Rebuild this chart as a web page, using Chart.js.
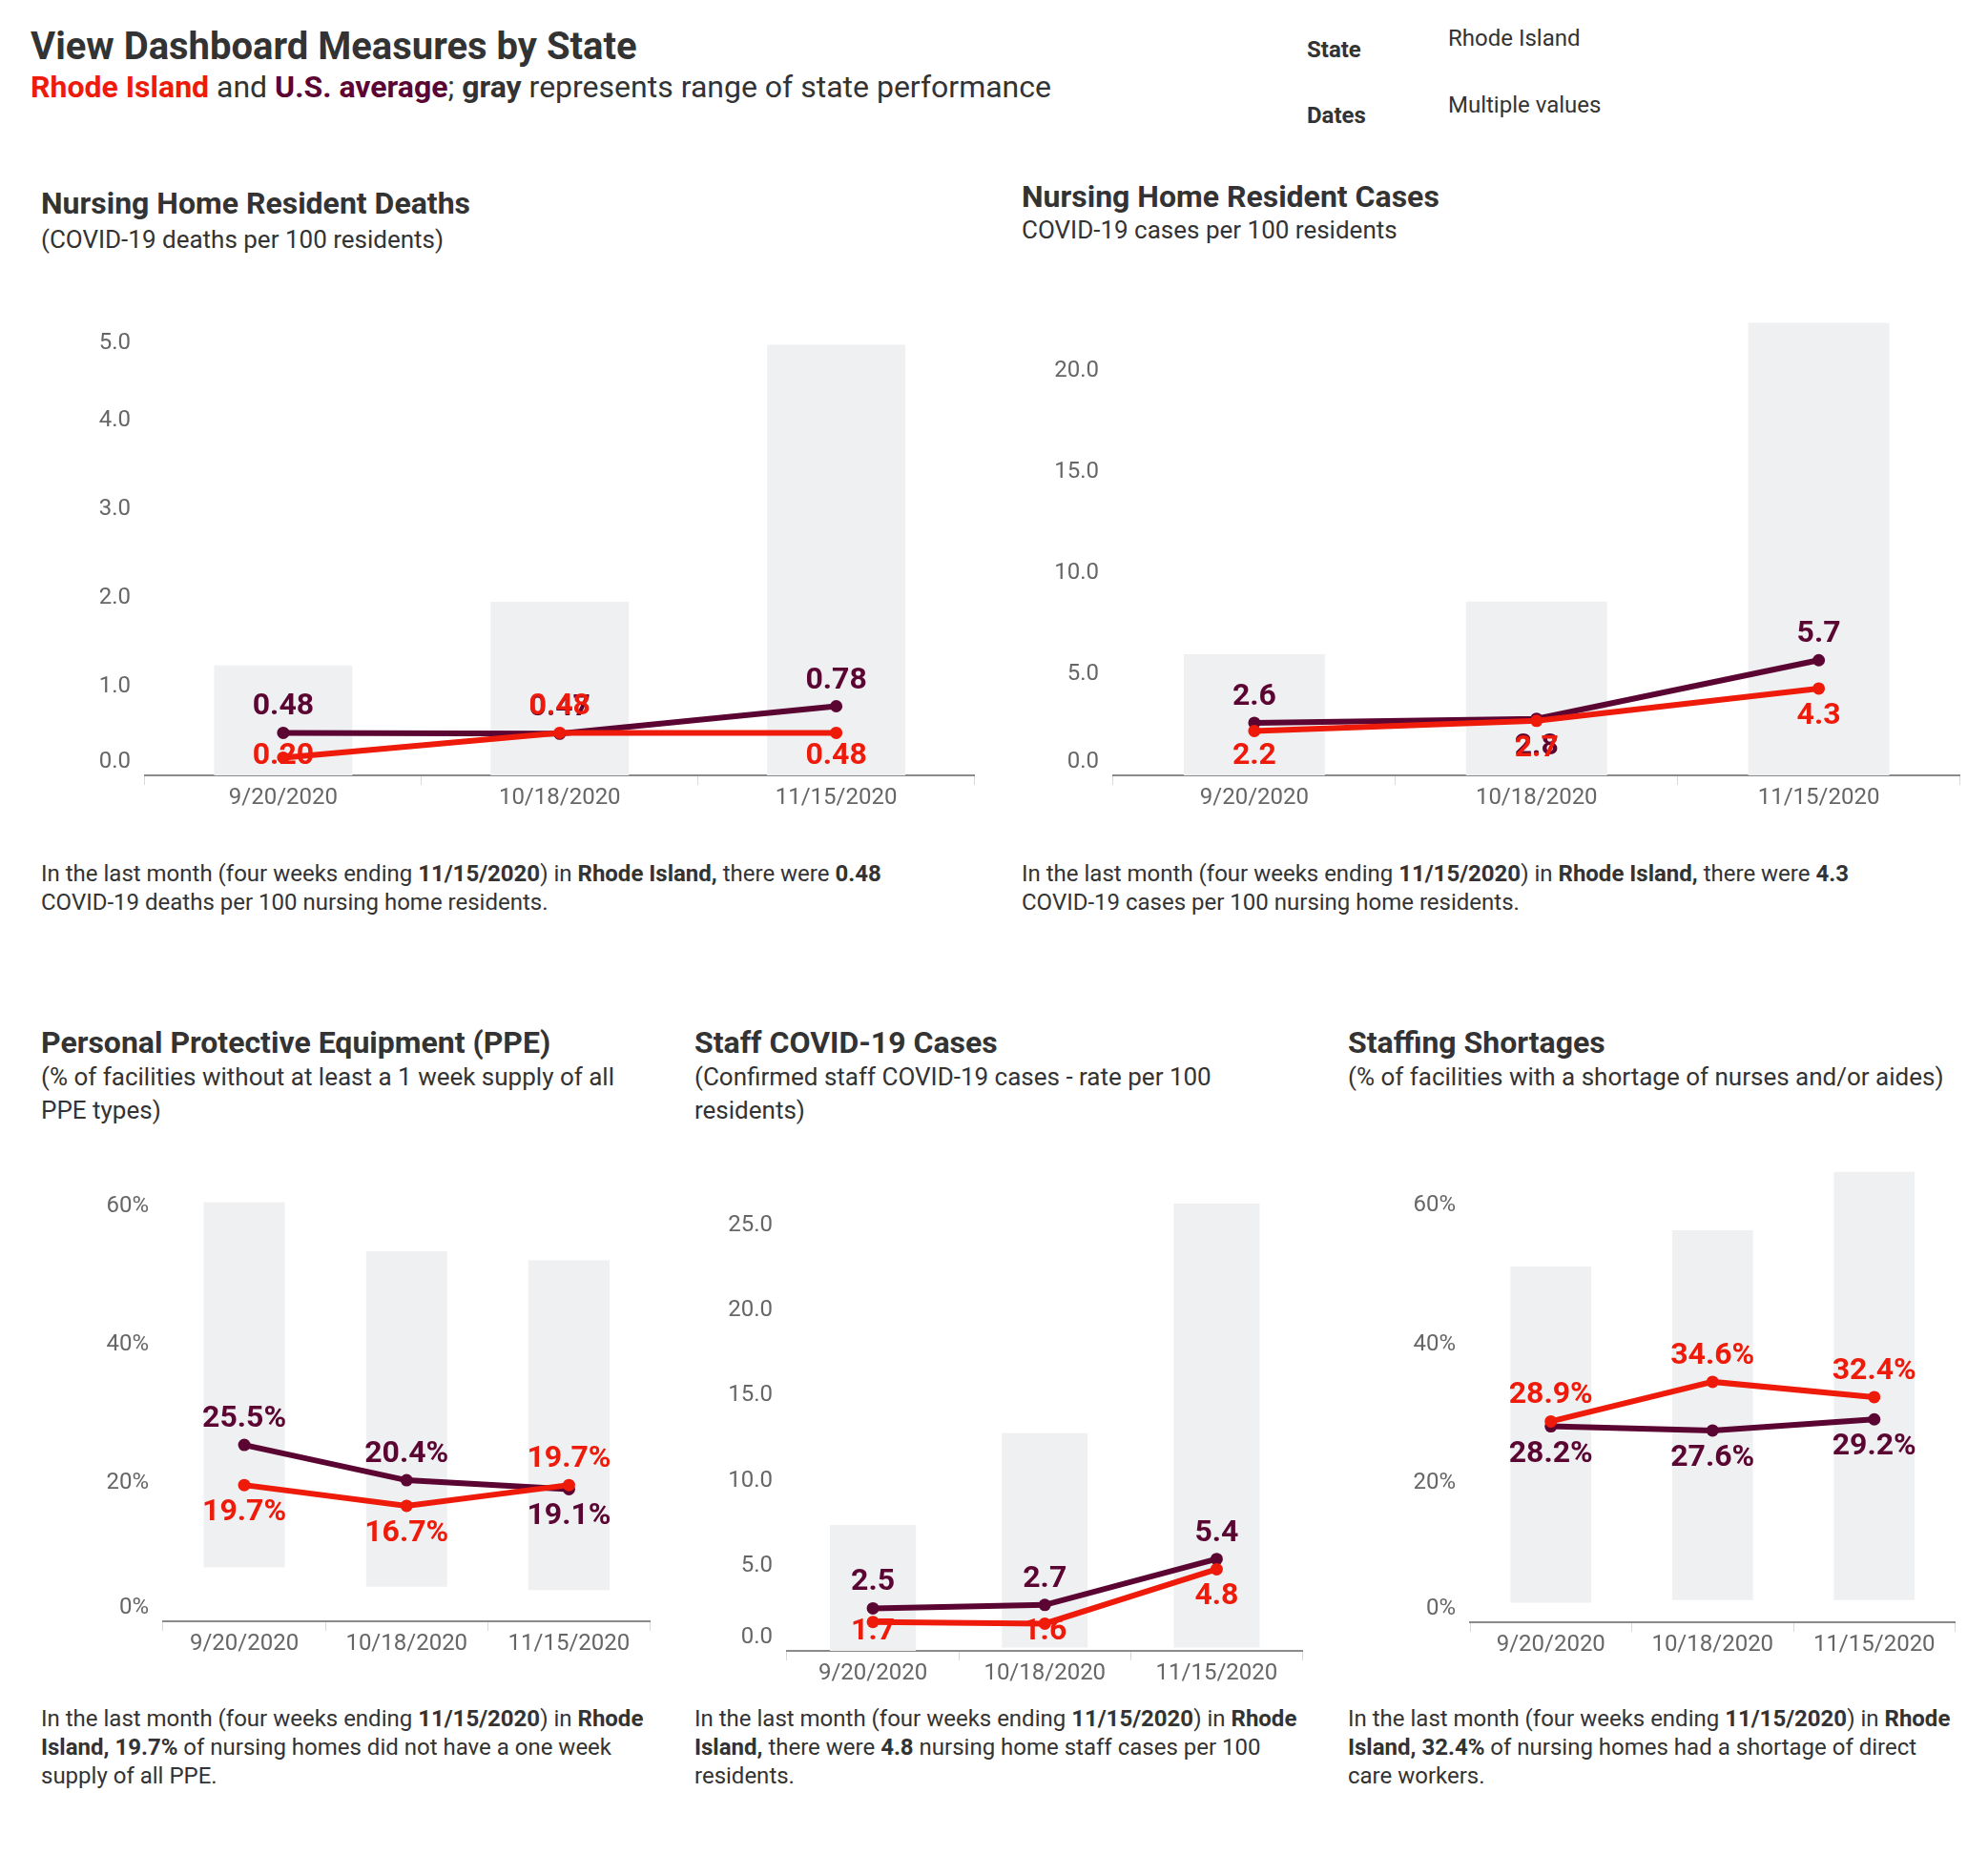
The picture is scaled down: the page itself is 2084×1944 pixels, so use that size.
<!DOCTYPE html>
<html><head><meta charset="utf-8">
<script src="https://cdn.jsdelivr.net/npm/chart.js@4.4.0/dist/chart.umd.min.js"></script>
<style>
html,body{margin:0;padding:0;background:#fff;}
body{width:2084px;height:1944px;position:relative;font-family:Roboto,sans-serif;color:#333;overflow:hidden;}
.t{position:absolute;white-space:nowrap;}
.main{font-weight:700;font-size:40px;line-height:44px;}
.msub{font-size:32px;line-height:36px;}
.hl{font-weight:700;font-size:24px;line-height:28px;}
.hv{font-size:24px;line-height:28px;}
.ttl{font-weight:700;font-size:32px;line-height:36px;}
.sub{font-size:26px;line-height:35px;}
.desc{font-size:24px;line-height:30px;}
b{font-weight:700;}
canvas{position:absolute;}
</style></head><body>

<div class="t main" style="left:32px;top:27px;">View Dashboard Measures by State</div>
<div class="t msub" style="left:32px;top:73px;"><b style="color:#ee1a0a">Rhode Island</b> and <b style="color:#5b0533">U.S. average</b>; <b>gray</b> represents range of state performance</div>
<div class="t hl" style="left:1370px;top:38px;">State</div>
<div class="t hv" style="left:1518px;top:26px;">Rhode Island</div>
<div class="t hl" style="left:1370px;top:107px;">Dates</div>
<div class="t hv" style="left:1518px;top:96px;">Multiple values</div>

<div class="t ttl" style="left:43px;top:195px;">Nursing Home Resident Deaths</div>
<div class="t sub" style="left:43px;top:234px;">(COVID-19 deaths per 100 residents)</div>
<div class="t desc" style="left:43px;top:901px;">In the last month (four weeks ending <b>11/15/2020</b>) in <b>Rhode Island,</b> there were <b>0.48</b><br>COVID-19 deaths per 100 nursing home residents.</div>

<div class="t ttl" style="left:1071px;top:188px;">Nursing Home Resident Cases</div>
<div class="t sub" style="left:1071px;top:224px;">COVID-19 cases per 100 residents</div>
<div class="t desc" style="left:1071px;top:901px;">In the last month (four weeks ending <b>11/15/2020</b>) in <b>Rhode Island,</b> there were <b>4.3</b><br>COVID-19 cases per 100 nursing home residents.</div>

<div class="t ttl" style="left:43px;top:1075px;">Personal Protective Equipment (PPE)</div>
<div class="t sub" style="left:43px;top:1112px;">(% of facilities without at least a 1 week supply of all<br>PPE types)</div>
<div class="t desc" style="left:43px;top:1787px;">In the last month (four weeks ending <b>11/15/2020</b>) in <b>Rhode</b><br><b>Island, 19.7%</b> of nursing homes did not have a one week<br>supply of all PPE.</div>

<div class="t ttl" style="left:728px;top:1075px;">Staff COVID-19 Cases</div>
<div class="t sub" style="left:728px;top:1112px;">(Confirmed staff COVID-19 cases - rate per 100<br>residents)</div>
<div class="t desc" style="left:728px;top:1787px;">In the last month (four weeks ending <b>11/15/2020</b>) in <b>Rhode</b><br><b>Island,</b> there were <b>4.8</b> nursing home staff cases per 100<br>residents.</div>

<div class="t ttl" style="left:1413px;top:1075px;">Staffing Shortages</div>
<div class="t sub" style="left:1413px;top:1112px;">(% of facilities with a shortage of nurses and/or aides)</div>
<div class="t desc" style="left:1413px;top:1787px;">In the last month (four weeks ending <b>11/15/2020</b>) in <b>Rhode</b><br><b>Island, 32.4%</b> of nursing homes had a shortage of direct<br>care workers.</div>

<canvas id="c1"></canvas>
<canvas id="c2"></canvas>
<canvas id="c3"></canvas>
<canvas id="c4"></canvas>
<canvas id="c5"></canvas>

<script>
// ---------- DATA ----------
const dates = ['9/20/2020', '10/18/2020', '11/15/2020'];

// Nursing Home Resident Deaths
const deathsUS = [0.48, 0.47, 0.78];
const deathsRI = [0.20, 0.48, 0.48];
const deathsLow = [0, 0, 0];
const deathsHigh = [1.24, 1.96, 4.86];
const deathsTicks = [0, 1, 2, 3, 4, 5];

// Nursing Home Resident Cases
const casesUS = [2.6, 2.8, 5.7];
const casesRI = [2.2, 2.7, 4.3];
const casesLow = [0, 0, 0];
const casesHigh = [6.0, 8.6, 22.4];
const casesTicks = [0, 5, 10, 15, 20];

// PPE
const ppeUS = [25.5, 20.4, 19.1];
const ppeRI = [19.7, 16.7, 19.7];
const ppeLow = [7.8, 5.0, 4.5];
const ppeHigh = [60.6, 53.5, 52.2];
const ppeTicks = [0, 20, 40, 60];

// Staff COVID-19 Cases
const staffUS = [2.5, 2.7, 5.4];
const staffRI = [1.7, 1.6, 4.8];
const staffLow = [0, 0.2, 0.2];
const staffHigh = [7.4, 12.8, 26.3];
const staffTicks = [0, 5, 10, 15, 20, 25];

// Staffing Shortages
const shortUS = [28.2, 27.6, 29.2];
const shortRI = [28.9, 34.6, 32.4];
const shortLow = [2.8, 3.2, 3.2];
const shortHigh = [51.2, 56.4, 64.8];
const shortTicks = [0, 20, 40, 60];

// ---------- STYLE / LAYOUT ----------
const RED = '#ee1a0a', PURPLE = '#5b0533', BARGRAY = '#eff0f2';
Chart.defaults.font.family = 'Roboto, sans-serif';
Chart.defaults.color = '#666';

// keep the y-axis labels inside the plot's vertical range (as the original dashboard does)
const clampYLabels = {
  id: 'clampY',
  beforeDraw(chart) {
    const y = chart.scales.y, ca = chart.chartArea;
    const items = y.getLabelItems();
    items.forEach(it => {
      const tr = it.options.translation;
      tr[1] = Math.max(ca.top + 12, Math.min(ca.bottom - 14, tr[1]));
    });
  }
};

const labelPlugin = {
  id: 'vals',
  afterDatasetsDraw(chart, args, opts) {
    const {ctx, chartArea} = chart;
    ctx.save();
    ctx.font = 'bold 32px Roboto, sans-serif';
    ctx.textAlign = 'center';
    ctx.textBaseline = 'middle';
    for (const s of opts.series) {
      const meta = chart.getDatasetMeta(s.ds);
      const vals = chart.data.datasets[s.ds].data;
      meta.data.forEach((pt, i) => {
        let y = pt.y + (s.pos[i] === 'above' ? -28 : 28);
        y = Math.max(chartArea.top + 12, Math.min(chartArea.bottom - 21, y));
        ctx.fillStyle = s.color;
        ctx.fillText(opts.fmt(vals[i]), pt.x, y + 1);
      });
    }
    ctx.restore();
  }
};

function makeChart(id, g, us, ri, low, high, ticks, yMax, tickFmt, valFmt, posUS, posRI) {
  const YW = 100, PT = 22, PR = 4, XH = 50;
  const cv = document.getElementById(id);
  const w = YW + (g.right - g.left) + PR;
  const h = PT + (g.zero - g.top) + XH;
  cv.width = w; cv.height = h;
  cv.style.left = (g.left - YW) + 'px';
  cv.style.top = (g.top - PT) + 'px';
  cv.style.width = w + 'px'; cv.style.height = h + 'px';
  new Chart(cv, {
    type: 'bar',
    data: {
      labels: dates,
      datasets: [
        {type: 'line', data: ri, borderColor: RED, backgroundColor: RED, borderWidth: 6,
         pointRadius: 6.5, pointBorderWidth: 0, pointBackgroundColor: RED, tension: 0, order: 0},
        {type: 'line', data: us, borderColor: PURPLE, backgroundColor: PURPLE, borderWidth: 6,
         pointRadius: 6.5, pointBorderWidth: 0, pointBackgroundColor: PURPLE, tension: 0, order: 1},
        {type: 'bar', data: low.map((lo, i) => [lo, high[i]]), backgroundColor: BARGRAY,
         categoryPercentage: 1, barPercentage: 0.5, order: 2}
      ]
    },
    options: {
      responsive: false, animation: false, devicePixelRatio: 1,
      layout: {padding: {top: PT, right: PR, left: 0, bottom: 0}},
      plugins: {
        legend: {display: false}, tooltip: {enabled: false},
        vals: {fmt: valFmt, series: [
          {ds: 1, color: PURPLE, pos: posUS},
          {ds: 0, color: RED, pos: posRI}
        ]}
      },
      scales: {
        x: {
          offset: true,
          grid: {display: true, drawOnChartArea: false, drawTicks: true, tickLength: 10, color: '#d9d9d9', offset: true},
          border: {display: true, color: '#8a8a8a', width: 2},
          ticks: {font: {size: 24}, color: '#666', padding: 0},
          afterFit: s => { s.height = XH; }
        },
        y: {
          min: 0, max: yMax,
          grid: {display: false, drawTicks: false},
          border: {display: false},
          ticks: {font: {size: 24}, color: '#666', padding: 15, callback: v => tickFmt(v)},
          afterBuildTicks: s => { s.ticks = ticks.map(v => ({value: v})); },
          afterFit: s => { s.width = YW; }
        }
      }
    },
    plugins: [clampYLabels, labelPlugin]
  });
}

const f1 = v => v.toFixed(1), f2 = v => v.toFixed(2), fp = v => v + '%', fp1 = v => v.toFixed(1) + '%';

makeChart('c1', {left: 152, right: 1024, zero: 813, top: 341}, deathsUS, deathsRI, deathsLow, deathsHigh,
  deathsTicks, 5.0, f1, f2, ['above','above','above'], ['below','above','below']);
makeChart('c2', {left: 1167, right: 2057, zero: 813, top: 329}, casesUS, casesRI, casesLow, casesHigh,
  casesTicks, 22.5, f1, f1, ['above','below','above'], ['below','below','below']);
makeChart('c3', {left: 171, right: 684, zero: 1700, top: 1243}, ppeUS, ppeRI, ppeLow, ppeHigh,
  ppeTicks, 62, fp, fp1, ['above','above','below'], ['below','below','above']);
makeChart('c4', {left: 825, right: 1368, zero: 1731, top: 1251}, staffUS, staffRI, staffLow, staffHigh,
  staffTicks, 26.5, f1, f1, ['above','above','above'], ['below','below','below']);
makeChart('c5', {left: 1541, right: 2052, zero: 1701, top: 1220}, shortUS, shortRI, shortLow, shortHigh,
  shortTicks, 65, fp, fp1, ['below','below','below'], ['above','above','above']);
</script>
</body></html>
